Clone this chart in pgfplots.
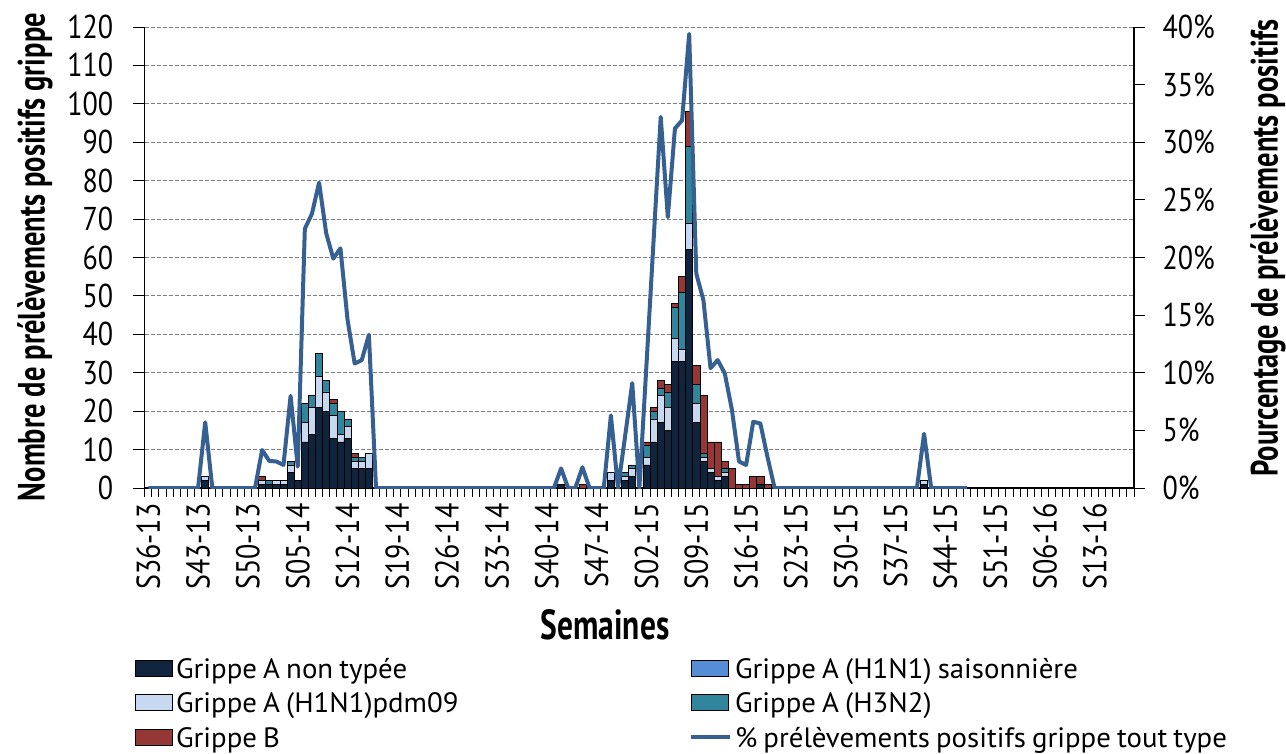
\documentclass[border=0pt]{standalone}
\usepackage{fontspec}
\setmainfont{PT Sans}[FakeStretch=0.85, WordSpace=0.8]
\newfontfamily\labfont{PT Sans}[FakeStretch=0.75]
\newfontfamily\legfont{PT Sans}[FakeStretch=1.03, WordSpace=0.8]
\usepackage{pgfplots}
\pgfplotsset{compat=1.18}
\usepackage{pgfplotstable}

\definecolor{cnt}{HTML}{10243E}
\definecolor{csais}{HTML}{558ED5}
\definecolor{cpdm}{HTML}{C6D9F1}
\definecolor{ch3}{HTML}{31859C}
\definecolor{cb}{HTML}{953735}
\definecolor{cline}{HTML}{366092}

\pgfplotsset{
  barleg/.style={legend image code/.code={\draw[##1,draw=black,line width=0.8bp] (0bp,-4.5bp) rectangle (37bp,11.5bp);}},
  lineleg/.style={legend image code/.code={\draw[##1] (0bp,4bp) -- (39bp,4bp);}},
}

\pgfplotstableread{
i nt sais pdm h3 b
8 2 0 1 0 0
16 1 0 1 0 1
17 1 0 0 1 0
18 1 0 1 0 0
19 1 0 1 0 0
20 4 0 2 1 0
21 2 0 0 0 0
22 12 0 5 5 0
23 14 0 7 3 0
24 21 0 8 6 0
25 20 0 5 3 0
26 13 0 6 3 1
27 12 0 2 6 0
28 13 0 3 2 0
29 5 0 2 1 1
30 5 0 2 1 0
31 5 0 4 0 0
58 1 0 0 0 0
61 0 0 0 0 1
65 2 0 2 0 0
67 2 0 1 1 0
68 3 0 2 1 0
70 6 0 2 3 1
71 12 0 6 2 1
72 17 0 7 2 2
73 15 0 6 4 2
74 33 0 6 8 1
75 33 0 3 15 4
76 62 0 7 20 9
77 17 0 5 5 5
78 7 0 1 1 15
79 4 0 1 0 7
80 2 0 1 0 9
81 3 0 1 1 2
82 0 0 0 0 5
83 0 0 0 0 1
84 0 0 0 0 1
85 0 0 0 0 3
86 1 0 0 0 2
87 0 0 0 0 1
109 1 0 1 0 0
}\bardata

\pgfplotstableread{
i p
0 0
1 0
2 0
3 0
4 0
5 0
6 0
7 0
8 5.7
9 0
10 0
11 0
12 0
13 0
14 0
15 0
16 3.3
17 2.35
18 2.3
19 2.0
20 8.0
21 1.85
22 22.5
23 23.8
24 26.5
25 22.1
26 19.9
27 20.8
28 14.6
29 10.8
30 11.1
31 13.3
32 0
33 0
34 0
35 0
36 0
37 0
38 0
39 0
40 0
41 0
42 0
43 0
44 0
45 0
46 0
47 0
48 0
49 0
50 0
51 0
52 0
53 0
54 0
55 0
56 0
57 0
58 1.7
59 0
60 0
61 1.8
62 0
63 0
64 0
65 6.3
66 0
67 4.5
68 9.1
69 0
70 10.7
71 21.5
72 32.2
73 23.5
74 31.2
75 31.9
76 39.4
77 18.6
78 16.3
79 10.4
80 11.1
81 9.95
82 6.8
83 2.3
84 2.0
85 5.75
86 5.6
87 2.7
88 0
89 0
90 0
91 0
92 0
93 0
94 0
95 0
96 0
97 0
98 0
99 0
100 0
101 0
102 0
103 0
104 0
105 0
106 0
107 0
108 0
109 4.7
110 0
111 0
112 0
113 0
114 0
115 0
}\linedata

\begin{document}
\begin{tikzpicture}[x=1bp,y=1bp]
\useasboundingbox (0,0) rectangle (1286,-754);
\begin{axis}[
  at={(144.7bp,-488bp)}, anchor=south west,
  scale only axis, width=989.3bp, height=461bp,
  xmin=-0.5, xmax=138.5, ymin=0, ymax=120,
  axis x line*=bottom, axis y line*=left,
  axis line style={-, line width=1.2bp, black},
  ybar stacked, bar width=1,
  ytick={0,10,...,120},
  xtick={0,7,...,133},
  xticklabels={S36-13,S43-13,S50-13,S05-14,S12-14,S19-14,S26-14,S33-14,S40-14,S47-14,S02-15,S09-15,S16-15,S23-15,S30-15,S37-15,S44-15,S51-15,S06-16,S13-16},
  minor xtick={-0.5,0.5,...,138.5},
  tick align=outside,
  major tick length=12bp, minor tick length=9bp,
  every major x tick/.append style={draw=none},
  tick style={black, line width=1bp},
  /pgf/number format/assume math mode=true,
  tick label style={font=\fontsize{33bp}{33bp}\selectfont},
  xticklabel style={rotate=90, anchor=east},
  yticklabel style={xshift=-16bp},
  ymajorgrids,
  grid style={dash pattern=on 4bp off 2bp, gray, line width=0.9bp},
  xlabel={\labfont\bfseries Semaines},
  xlabel style={at={(axis description cs:0.4653,-0.2972)}, anchor=center, font=\fontsize{42bp}{42bp}\selectfont},
  ylabel={\labfont\bfseries Nombre de prélèvements positifs grippe},
  ylabel style={at={(axis description cs:-0.1109,0.501)}, anchor=center, font=\fontsize{38bp}{38bp}\selectfont},
  legend columns=2,
  legend cell align=left,
  legend style={at={(axis description cs:-0.0098,-0.3666)}, anchor=north west, draw=none, fill=none,
    font={\legfont\fontsize{28bp}{28bp}\selectfont}, inner sep=0bp, row sep=5.65bp,
    nodes={inner sep=1bp, text height=20bp, text depth=7bp},
    /tikz/every odd column/.append style={column sep=2bp},
    /tikz/every even column/.append style={column sep=0bp}},
]
\addplot[fill=cnt, draw=black, line width=0.7bp, barleg] table[x=i, y=nt] {\bardata};
\addlegendentry{\makebox[512bp][l]{Grippe A non typée}}
\addplot[fill=csais, draw=black, line width=0.7bp, barleg] table[x=i, y=sais] {\bardata};
\addlegendentry{Grippe A (H1N1) saisonnière}
\addplot[fill=cpdm, draw=black, line width=0.7bp, barleg] table[x=i, y=pdm] {\bardata};
\addlegendentry{\makebox[512bp][l]{Grippe A (H1N1)pdm09}}
\addplot[fill=ch3, draw=black, line width=0.7bp, barleg] table[x=i, y=h3] {\bardata};
\addlegendentry{Grippe A (H3N2)}
\addplot[fill=cb, draw=black, line width=0.7bp, barleg] table[x=i, y=b] {\bardata};
\addlegendentry{\makebox[512bp][l]{Grippe B}}
\addlegendimage{cline, line width=4bp, lineleg}
\addlegendentry{\% prélèvements positifs grippe tout type}
\end{axis}
\begin{axis}[
  at={(144.7bp,-488bp)}, anchor=south west,
  scale only axis, width=989.3bp, height=461bp,
  xmin=-0.5, xmax=138.5, ymin=0, ymax=40,
  axis x line=none, axis y line*=right,
  axis line style={-, line width=1.2bp, black},
  ytick={0,5,...,40},
  yticklabel={\hspace*{14bp}\pgfmathprintnumber{\tick}\%},
  tick align=outside, major tick length=11bp,
  tick style={black, line width=1bp},
  /pgf/number format/assume math mode=true,
  tick label style={font=\fontsize{33bp}{33bp}\selectfont},
  ylabel={\labfont\bfseries Pourcentage de prélèvements positifs},
  ylabel style={at={(axis description cs:1.1355,0.521)}, anchor=center, font=\fontsize{38bp}{38bp}\selectfont},
]
\addplot[cline, line width=4bp, line join=round, mark=none] table[x=i, y=p] {\linedata};
\end{axis}
\end{tikzpicture}
\end{document}
